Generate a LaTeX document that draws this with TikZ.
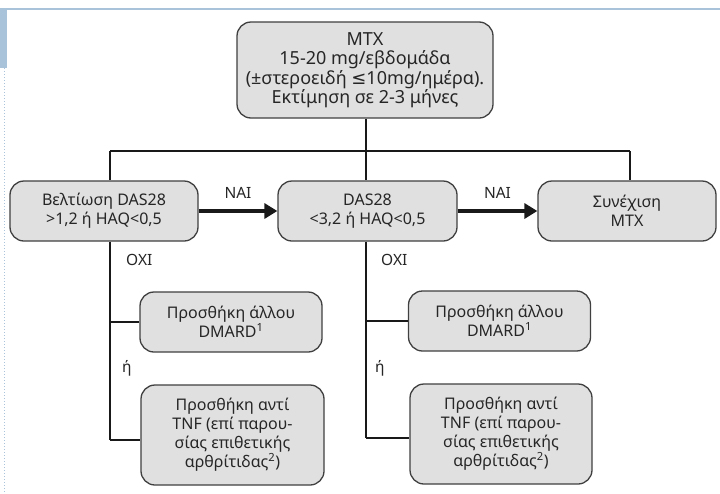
\documentclass[tikz,border=0pt]{standalone}
\usepackage{fontspec}
\setmainfont{Noto Sans}
\newfontfamily\symfont{DejaVu Sans}
\usetikzlibrary{arrows.meta}
\definecolor{boxfill}{HTML}{E0E0E0}
\definecolor{boxline}{HTML}{404040}
\definecolor{frameblue}{HTML}{A9C4DA}
\tikzset{
  stepbox/.style={draw=boxline, line width=1.3pt, fill=boxfill, rounded corners=14pt,
    align=center, inner sep=1pt, text=black!85,
    font=\fontsize{16}{19}\selectfont},
  bigbox/.style={stepbox, font=\fontsize{18}{19.5}\selectfont},
  conn/.style={line width=1.4pt, black!90},
  yesarrow/.style={line width=3.5pt, black!90, -{Triangle[length=13pt,width=15pt]}},
  lbl/.style={font=\fontsize{15.5}{17}\selectfont, inner sep=0pt, text=black!85}
}
\begin{document}
\begin{tikzpicture}[x=1pt,y=-1pt]
\useasboundingbox (0,0) rectangle (720,493);
\fill[white] (0,0) rectangle (720,493);
% page frame decoration
\draw[frameblue, line width=1.5pt] (0,9) -- (720,9);
\fill[frameblue] (0,9) rectangle (7,68);
\draw[frameblue, dotted, line width=1pt] (4,68) -- (4,493);

% nodes
\node[bigbox, minimum width=256pt, minimum height=96pt] (mtx) at (365,70)
  {MTX\\15-20 mg/εβδομάδα\\(±στεροειδή {\symfont ≤}10mg/ημέρα).\\Εκτίμηση σε 2-3 μήνες};
\node[stepbox, minimum width=188pt, minimum height=60pt] (b1) at (104,211)
  {Βελτίωση DAS28\\>1,2 ή HAQ<0,5};
\node[stepbox, minimum width=179pt, minimum height=60pt] (b2) at (367.5,211)
  {DAS28\\<3,2 ή HAQ<0,5};
\node[stepbox, minimum width=178pt, minimum height=60pt] (b3) at (627,211)
  {Συνέχιση\\MTX};
\node[stepbox, minimum width=182pt, minimum height=60pt] (d1) at (231,322)
  {Προσθήκη άλλου\\DMARD\textsuperscript{1}};
\node[stepbox, minimum width=183pt, minimum height=100pt] (t1) at (232.5,435)
  {Προσθήκη αντί\\TNF (επί παρου-\\σίας επιθετικής\\αρθρίτιδας\textsuperscript{2})};
\node[stepbox, minimum width=182pt, minimum height=60pt] (d2) at (499.5,321)
  {Προσθήκη άλλου\\DMARD\textsuperscript{1}};
\node[stepbox, minimum width=182pt, minimum height=100pt] (t2) at (501,434)
  {Προσθήκη αντί\\TNF (επί παρου-\\σίας επιθετικής\\αρθρίτιδας\textsuperscript{2})};

% junctions
\coordinate (j) at (366,151);
\coordinate (jl) at (110,151);
\coordinate (jr) at (630,151);
\coordinate (l1) at (110,440);
\coordinate (l2) at (366,438);

\draw[conn] (j |- mtx.south) -- (j);
\draw[conn] (jl) -- (jr);
\draw[conn] (jl) -- (jl |- b1.north);
\draw[conn] (j) -- (j |- b2.north);
\draw[conn] (jr) -- (jr |- b3.north);

\draw[yesarrow] (b1.east) -- (b2.west) node[lbl, midway, above=11pt] {ΝΑΙ};
\draw[yesarrow] (b2.east) -- (b3.west) node[lbl, midway, above=11pt] {ΝΑΙ};

\draw[conn] (jl |- b1.south) -- (l1);
\draw[conn] (l1) -- (t1.west |- l1);
\draw[conn] (jl |- d1.west) -- (d1.west);
\draw[conn] (j |- b2.south) -- (l2);
\draw[conn] (l2) -- (t2.west |- l2);
\draw[conn] (j |- d2.west) -- (d2.west);

\node[lbl, anchor=west] (n1) at (126,260) {ΟΧΙ};
\node[lbl, anchor=west] (n2) at (381,260) {ΟΧΙ};
\node[lbl, anchor=west] (o1) at (122,368) {ή};
\node[lbl, anchor=west] (o2) at (375,368) {ή};
\end{tikzpicture}
\end{document}
